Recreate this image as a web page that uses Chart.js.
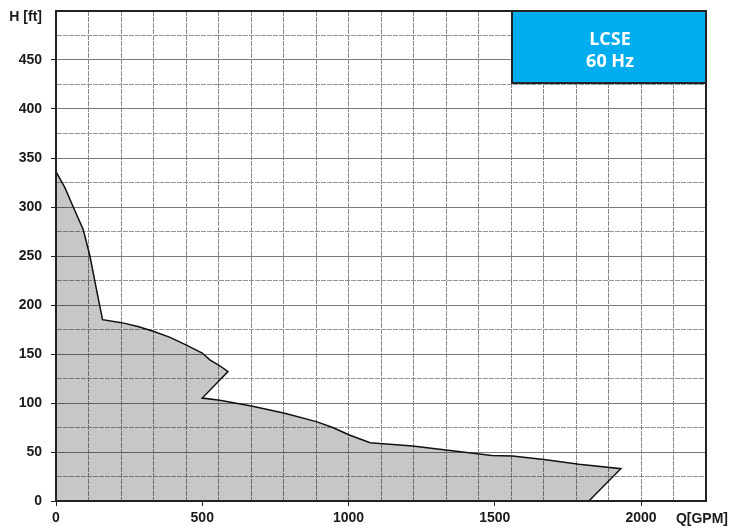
<!DOCTYPE html>
<html>
<head>
<meta charset="utf-8">
<script src="https://cdn.jsdelivr.net/npm/chart.js@4.4.0/dist/chart.umd.min.js"></script>
<style>body{margin:0;background:#fff}</style>
</head>
<body>
<canvas id="myChart" width="730" height="529"></canvas>
<script>
// Outline of the pump field, Q in GPM
var flow = [0,30,59,93,116,139,159,224,280,335,390,446,500,526,560,588,500,560,668,782,890,946,1003,1074,1174,1219,1333,1447,1490,1561,1675,1788,1931,1822,0];
// H in ft
var head = [336,320,300,277,250,215,185,182,178,173,167,159,151,144,138,132,105,102.7,97,89.5,81,75,67.3,59.5,57.1,56,52,48,46.5,46,42,37.4,33,0,0];
// axis labels
var xLabels = [0,500,1000,1500,2000];
var xTitle = 'Q[GPM]';
var yTitle = 'H [ft]';
var xMax = 20000/9;   // 20 grid columns, 2000 falls on the 18th
var yMax = 500;
var boxText = ['LCSE','60 Hz'];

var points = flow.map(function(q,i){ return {x:q, y:head[i]}; });
var tickFont = {family:'Arial, "Liberation Sans"', size:14, weight:'bold'};
var step = xMax/20;

function isLabel(v){ return xLabels.some(function(a){ return Math.abs(a-v) < 0.5; }); }
function isGrid(v){ var r = v/step; return Math.abs(r-Math.round(r)) < 1e-6; }

var decor = {
  id:'decor',
  afterDraw: function(chart){
    var c = chart.ctx, a = chart.chartArea;
    c.save();
    // frame
    c.strokeStyle = '#222';
    c.lineWidth = 2;
    c.strokeRect(a.left, a.top, a.right-a.left, a.bottom-a.top);
    // type box
    var w = 194, h = 72;
    c.fillStyle = '#00adef';
    c.fillRect(a.right-w, a.top, w, h);
    c.strokeRect(a.right-w, a.top, w, h);
    c.fillStyle = '#fff';
    c.font = 'bold 18px "Open Sans", Arial';
    c.textAlign = 'center';
    c.textBaseline = 'middle';
    c.fillText(boxText[0], a.right-w/2+1, a.top+29);
    c.fillText(boxText[1], a.right-w/2+1, a.top+51);
    // axis titles
    c.fillStyle = '#1a1a1a';
    c.font = 'bold 14px Arial, "Liberation Sans"';
    c.textAlign = 'right';
    c.fillText(xTitle, chart.width-2, a.bottom+18);
    c.fillText(yTitle, a.left-14, a.top+6);
    c.restore();
  }
};

var ctx = document.getElementById("myChart");
var myChart = new Chart(ctx, {
  type: 'scatter',
  data: {
    datasets: [{
      data: points,
      showLine: true,
      fill: 'shape',
      backgroundColor: 'rgba(0,0,0,0.22)',
      borderColor: '#111',
      borderWidth: 1.5,
      pointRadius: 0,
      tension: 0
    }]
  },
  options: {
    responsive: false,
    animation: false,
    layout: {padding: {top: 11, right: 24, left: 0, bottom: 0}},
    plugins: {legend: {display: false}, tooltip: {enabled: false}},
    scales: {
      x: {
        type: 'linear', min: 0, max: xMax,
        afterBuildTicks: function(s){
          var t = [];
          for (var i = 0; i <= 20; i++) t.push({value: i*step});
          xLabels.forEach(function(v){
            if (!isGrid(v)) t.push({value: v});
          });
          t.sort(function(a,b){ return a.value-b.value; });
          s.ticks = t;
        },
        afterFit: function(s){ s.height = 28; s.paddingLeft = 0; s.paddingRight = 0; },
        ticks: {
          autoSkip: false, maxRotation: 0, padding: 4, color: '#1a1a1a', font: tickFont,
          callback: function(v){
            var l = xLabels.find(function(a){ return Math.abs(a-v) < 0.5; });
            return l === undefined ? '' : String(l);
          }
        },
        grid: {
          color: function(c){ return c.tick && isGrid(c.tick.value) ? '#8a8a8a' : 'rgba(0,0,0,0)'; },
          tickColor: function(c){ return c.tick && isLabel(c.tick.value) ? '#222' : 'rgba(0,0,0,0)'; },
          tickLength: 5, lineWidth: 1
        },
        border: {color: '#222', width: 2,
          dash: function(c){ return c.tick ? [5,1] : []; }}
      },
      y: {
        min: 0, max: yMax,
        afterBuildTicks: function(s){
          var t = [];
          for (var v = 0; v <= yMax; v += 25) t.push({value: v});
          s.ticks = t;
        },
        afterFit: function(s){ s.width = 56; s.paddingTop = 0; s.paddingBottom = 0; },
        ticks: {
          autoSkip: false, padding: 9, color: '#1a1a1a', font: tickFont,
          callback: function(v){
            if (v === yMax) return '';
            return v % 50 === 0 ? String(v) : '';
          }
        },
        grid: {
          color: function(c){ return c.tick && c.tick.value % 50 === 0 ? '#7a7a7a' : '#959595'; },
          tickColor: function(c){ return c.tick && c.tick.value % 50 === 0 && c.tick.value !== yMax ? '#222' : 'rgba(0,0,0,0)'; },
          tickLength: 5, lineWidth: 1
        },
        border: {color: '#222', width: 2,
          dash: function(c){ return c.tick && c.tick.value % 50 !== 0 ? [5,1] : []; }}
      }
    }
  },
  plugins: [decor]
});
</script>
</body>
</html>
